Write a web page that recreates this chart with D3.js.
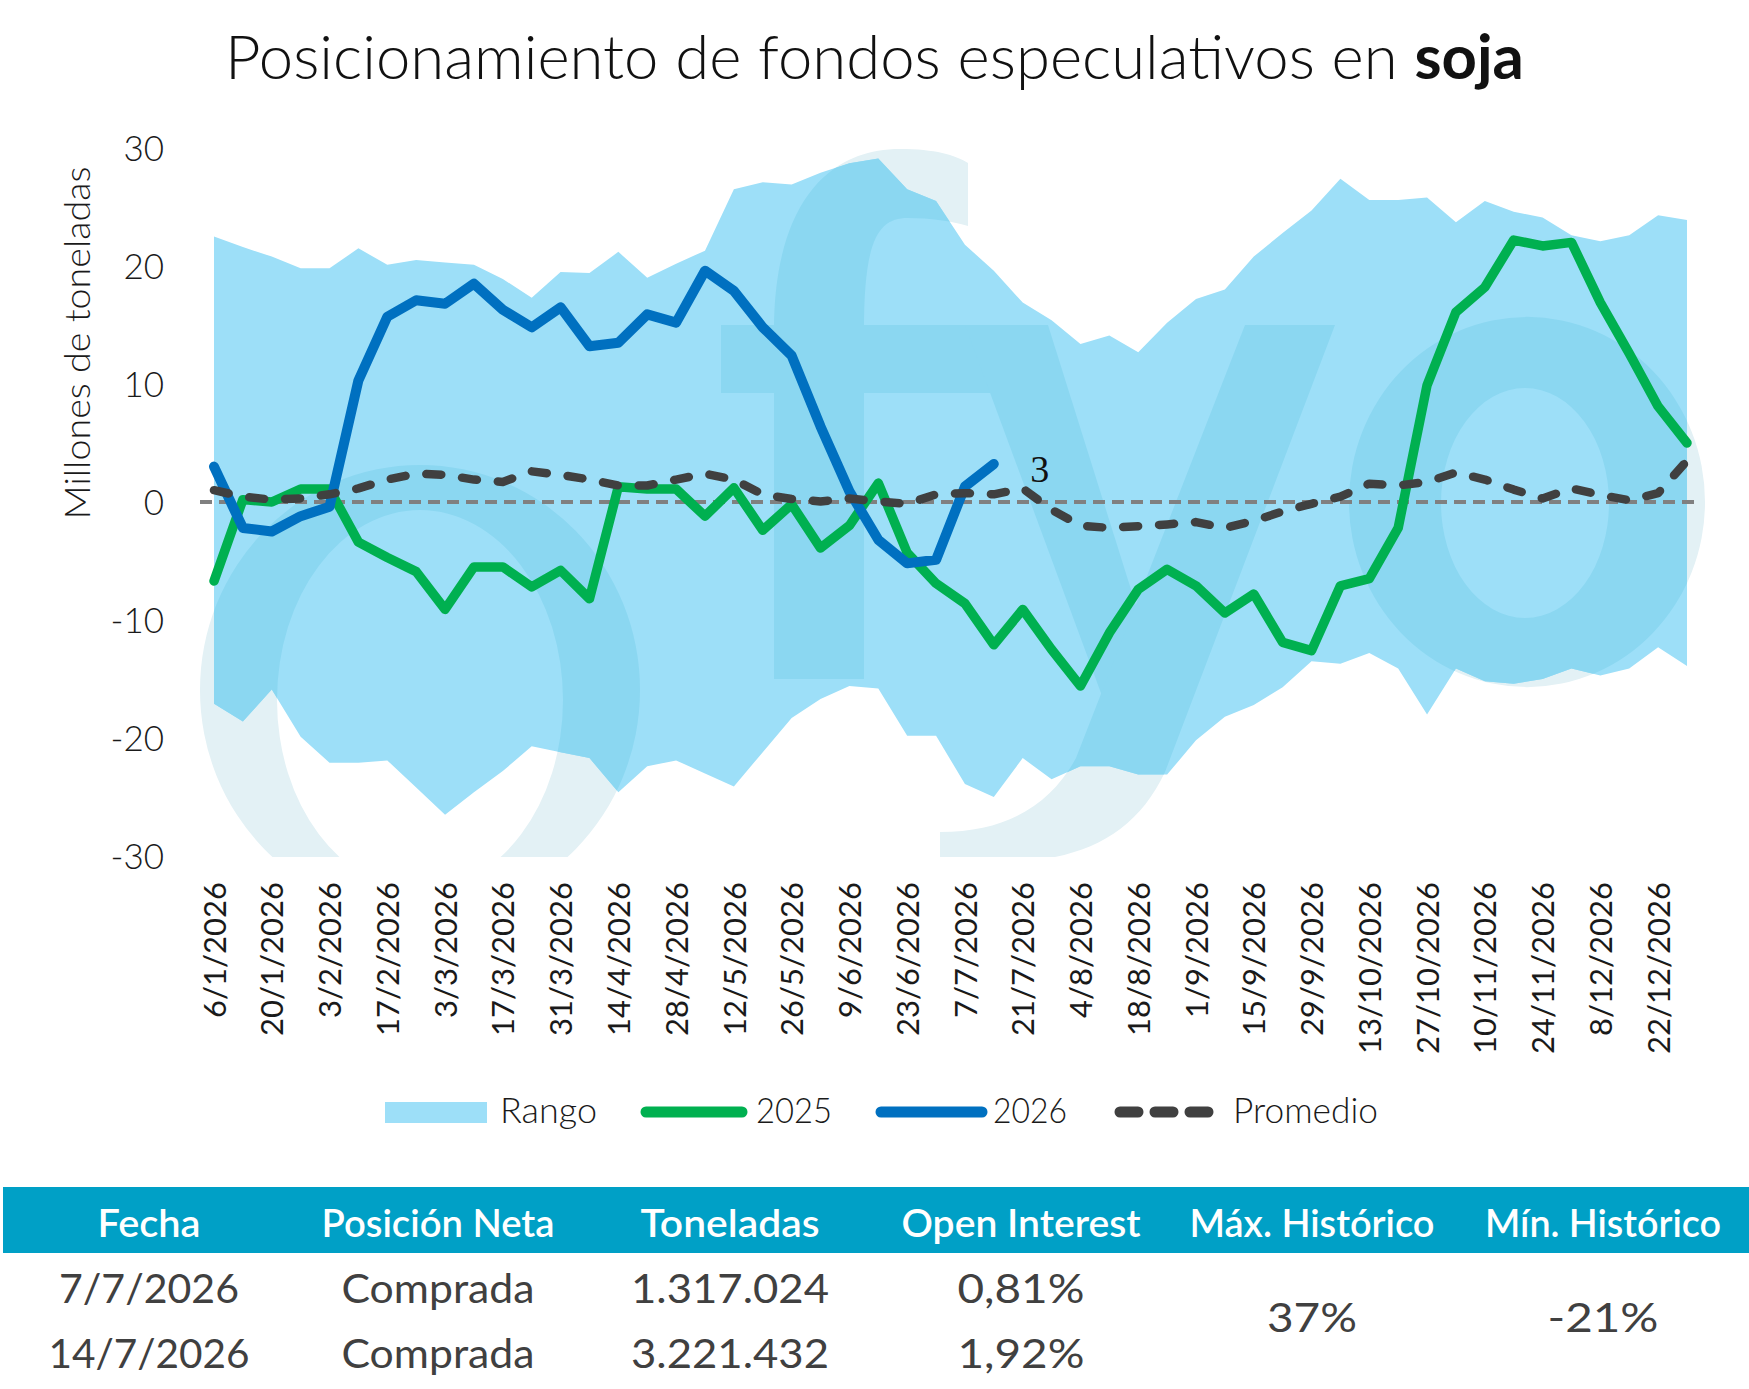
<!DOCTYPE html>
<html>
<head>
<meta charset="utf-8">
<script src="https://cdn.jsdelivr.net/npm/d3@7"></script>
<style>
  html, body { margin: 0; padding: 0; background: #fff; }
  svg { display: block; font-family: Lato, "Open Sans", sans-serif; }
</style>
</head>
<body>
<svg id="chart" width="1749" height="1389"></svg>
<script>
// Semanas (martes) de 2026
const weeks = ["6/1/2026","13/1/2026","20/1/2026","27/1/2026","3/2/2026","10/2/2026","17/2/2026","24/2/2026",
  "3/3/2026","10/3/2026","17/3/2026","24/3/2026","31/3/2026","7/4/2026","14/4/2026","21/4/2026","28/4/2026",
  "5/5/2026","12/5/2026","19/5/2026","26/5/2026","2/6/2026","9/6/2026","16/6/2026","23/6/2026","30/6/2026",
  "7/7/2026","14/7/2026","21/7/2026","28/7/2026","4/8/2026","11/8/2026","18/8/2026","25/8/2026","1/9/2026",
  "8/9/2026","15/9/2026","22/9/2026","29/9/2026","6/10/2026","13/10/2026","20/10/2026","27/10/2026","3/11/2026",
  "10/11/2026","17/11/2026","24/11/2026","1/12/2026","8/12/2026","15/12/2026","22/12/2026","29/12/2026"];

const tickLabels = ["6/1/2026","20/1/2026","3/2/2026","17/2/2026","3/3/2026","17/3/2026","31/3/2026","14/4/2026",
  "28/4/2026","12/5/2026","26/5/2026","9/6/2026","23/6/2026","7/7/2026","21/7/2026","4/8/2026","18/8/2026",
  "1/9/2026","15/9/2026","29/9/2026","13/10/2026","27/10/2026","10/11/2026","24/11/2026","8/12/2026","22/12/2026"];

// millones de toneladas
const rangoMax = [22.5,21.6,20.8,19.8,19.8,21.5,20.1,20.5,20.3,20.1,18.9,17.3,19.5,19.4,21.2,19.0,20.2,21.3,26.5,27.1,
  26.9,27.9,28.7,29.1,26.5,25.5,21.8,19.6,16.9,15.4,13.4,14.1,12.7,15.2,17.2,18.0,20.8,22.8,24.7,27.4,
  25.6,25.6,25.8,23.7,25.5,24.6,24.1,22.6,22.1,22.6,24.3,23.9];
const rangoMin = [-17.1,-18.6,-15.9,-19.9,-22.1,-22.1,-21.9,-24.2,-26.5,-24.6,-22.8,-20.7,-21.2,-21.7,-24.6,-22.4,-21.9,
  -23.0,-24.1,-21.2,-18.3,-16.7,-15.6,-15.8,-19.8,-19.8,-23.9,-25.0,-21.7,-23.5,-22.4,-22.4,-23.1,-23.1,-20.2,
  -18.2,-17.2,-15.7,-13.5,-13.7,-12.8,-14.1,-18.0,-14.1,-15.2,-15.4,-15.0,-14.1,-14.7,-14.1,-12.3,-13.9];
const serie2025 = [-6.7,0.2,0.0,1.1,1.1,-3.4,-4.7,-5.9,-9.1,-5.5,-5.5,-7.2,-5.8,-8.2,1.3,1.1,1.1,-1.2,1.2,-2.4,
  -0.2,-3.9,-2.0,1.6,-4.3,-6.9,-8.6,-12.1,-9.1,-12.5,-15.6,-11.1,-7.4,-5.7,-7.1,-9.4,-7.8,-11.9,-12.6,-7.1,
  -6.5,-2.2,9.9,16.1,18.2,22.2,21.7,22.0,16.9,12.6,8.1,5.0];
const serie2026 = [3.0,-2.2,-2.5,-1.2,-0.4,10.3,15.7,17.1,16.8,18.5,16.3,14.8,16.5,13.2,13.5,15.9,15.2,19.6,17.9,14.8,
  12.4,6.4,0.9,-3.2,-5.2,-4.9,1.317,3.221];
const promedio = [1.0,0.45,0.2,0.3,0.65,1.15,1.9,2.4,2.3,1.9,1.7,2.6,2.3,1.9,1.4,1.4,1.9,2.4,1.9,0.65,
  0.25,0.05,0.3,0.05,-0.15,0.65,0.75,0.65,1.15,-0.65,-2.0,-2.2,-2.05,-1.9,-1.7,-2.2,-1.6,-0.8,-0.15,0.45,
  1.55,1.4,1.7,2.5,1.9,1.05,0.3,1.15,0.6,0.15,0.75,3.5];

const yTicks = [-30, -20, -10, 0, 10, 20, 30];
const yTickLabels = ["-30", "-20", "-10", "0", "10", "20", "30"];

const legendLabels = ["Rango", "2025", "2026", "Promedio"];
const tableHeaders = ["Fecha", "Posición Neta", "Toneladas", "Open Interest", "Máx. Histórico", "Mín. Histórico"];
const tableRows = [
  ["7/7/2026", "Comprada", "1.317.024", "0,81%"],
  ["14/7/2026", "Comprada", "3.221.432", "1,92%"]
];
const maxHistorico = "37%";
const minHistorico = "-21%";

const colors = { rango: "#9ddff8", wmOut: "#e3f1f5", wmIn: "#8bd7f1", g2025: "#00b050", g2026: "#0070c0",
  prom: "#404040", zero: "#808080", header: "#00a0c6", text: "#1a1a1a", cell: "#404040" };

const svg = d3.select("#chart");

// scales
const x = d3.scalePoint().domain(weeks).range([214, 1687]);
const y = d3.scaleLinear().domain([-30, 30]).range([856, 148]);

const defs = svg.append("defs");
defs.append("clipPath").attr("id", "plotClip")
  .append("rect").attr("x", 180).attr("y", 140).attr("width", 1569).attr("height", 717);

const area = d3.area()
  .x((d, i) => x(weeks[i]))
  .y0((d, i) => y(rangoMin[i]))
  .y1(d => y(d));
defs.append("clipPath").attr("id", "areaClip")
  .append("path").attr("d", area(rangoMax));

// watermark (logo de fondo)
function ell(cx, cy, rx, ry) {
  return `M${cx - rx},${cy}A${rx},${ry} 0 1,0 ${cx + rx},${cy}A${rx},${ry} 0 1,0 ${cx - rx},${cy}Z`;
}
const wmPaths = [
  ell(420, 690, 220, 225) + ell(420, 700, 143, 190),
  "M721,325H1048V393H864V679H774V393H721Z",
  "M774,330C774,215 820,149 900,149C935,149 955,155 968,163L968,226C952,221 930,218 908,218C878,218 864,240 864,330Z",
  "M965,325L1048,325L1150,650L1108,712Z",
  "M1245,325L1335,325L1165,772C1135,836 1080,862 1000,862L940,862L940,832C1010,832 1052,802 1076,758Z",
  ell(1527, 502, 178, 185) + ell(1525, 503, 84, 115)
];
function watermark(parent, fill) {
  parent.selectAll("path.wm").data(wmPaths).enter().append("path")
    .attr("class", "wm").attr("d", d => d)
    .attr("fill", fill).attr("fill-rule", "evenodd");
}

const plot = svg.append("g").attr("clip-path", "url(#plotClip)");
watermark(plot.append("g"), colors.wmOut);

plot.append("path")
  .attr("d", area(rangoMax))
  .attr("fill", colors.rango);

watermark(plot.append("g").attr("clip-path", "url(#areaClip)"), colors.wmIn);

// zero line
svg.append("line")
  .attr("x1", 200).attr("x2", 1701)
  .attr("y1", y(0)).attr("y2", y(0))
  .attr("stroke", colors.zero).attr("stroke-width", 4)
  .attr("stroke-dasharray", "12 7");

const line = d3.line().x((d, i) => x(weeks[i])).y(d => y(d));

svg.append("path").datum(serie2025)
  .attr("d", line).attr("fill", "none")
  .attr("stroke", colors.g2025).attr("stroke-width", 9.5)
  .attr("stroke-linejoin", "round").attr("stroke-linecap", "round");

svg.append("path").datum(serie2026)
  .attr("d", line).attr("fill", "none")
  .attr("stroke", colors.g2026).attr("stroke-width", 10)
  .attr("stroke-linejoin", "round").attr("stroke-linecap", "round");

svg.append("path").datum(promedio)
  .attr("d", line).attr("fill", "none")
  .attr("stroke", colors.prom).attr("stroke-width", 8.5)
  .attr("stroke-linejoin", "round").attr("stroke-linecap", "round")
  .attr("stroke-dasharray", "15 21");

// etiqueta del ultimo dato 2026
const lastI = serie2026.length - 1;
svg.append("text")
  .attr("x", x(weeks[lastI]) + 46)
  .attr("y", y(serie2026[lastI]) + 18)
  .attr("text-anchor", "middle")
  .attr("font-family", "Liberation Serif, serif")
  .attr("font-size", 38)
  .attr("fill", "#111")
  .text(d3.format(".0f")(serie2026[lastI]));

// y axis
const yAxis = svg.append("g")
  .attr("transform", "translate(164,0)")
  .call(d3.axisLeft(y).tickValues(yTicks).tickSize(0).tickPadding(0)
    .tickFormat((d, i) => yTickLabels[i]));
yAxis.select(".domain").remove();
yAxis.selectAll("text")
  .attr("font-family", "Lato, sans-serif")
  .attr("font-size", 35)
  .attr("font-weight", 300)
  .attr("fill", colors.text)
  .attr("dy", "0.36em");

svg.append("text")
  .attr("transform", "translate(90,343) rotate(-90)")
  .attr("text-anchor", "middle")
  .attr("font-size", 36)
  .attr("font-weight", 300)
  .attr("fill", colors.text)
  .attr("textLength", 353).attr("lengthAdjust", "spacingAndGlyphs")
  .text("Millones de toneladas");

// x axis
const xAxis = svg.append("g")
  .attr("transform", "translate(0,882)")
  .call(d3.axisBottom(x).tickValues(tickLabels).tickSize(0));
xAxis.select(".domain").remove();
xAxis.selectAll("text")
  .attr("transform", "rotate(-90)")
  .attr("x", 0).attr("y", 0).attr("dy", "0.36em")
  .attr("text-anchor", "end")
  .attr("font-family", "Lato, sans-serif")
  .attr("font-size", 31)
  .attr("font-weight", 400)
  .attr("fill", colors.text);

// title
const title = svg.append("text")
  .attr("x", 0).attr("y", 0)
  .attr("font-size", 62)
  .attr("font-weight", 300)
  .attr("fill", "#111");
title.append("tspan").text("Posicionamiento de fondos especulativos en ");
title.append("tspan").attr("font-weight", 700).text("soja");
const tw = title.node().getComputedTextLength();
title.attr("transform", `translate(225,79) scale(${1299 / tw},1)`);

// legend
const lg = svg.append("g").attr("font-size", 35).attr("font-weight", 300).attr("fill", colors.text);
lg.append("rect").attr("x", 385).attr("y", 1102).attr("width", 102).attr("height", 21).attr("fill", colors.rango);
lg.append("line").attr("x1", 646).attr("x2", 742).attr("y1", 1112).attr("y2", 1112)
  .attr("stroke", colors.g2025).attr("stroke-width", 11).attr("stroke-linecap", "round");
lg.append("line").attr("x1", 881).attr("x2", 982).attr("y1", 1112).attr("y2", 1112)
  .attr("stroke", colors.g2026).attr("stroke-width", 11).attr("stroke-linecap", "round");
lg.append("line").attr("x1", 1120).attr("x2", 1209).attr("y1", 1112).attr("y2", 1112)
  .attr("stroke", colors.prom).attr("stroke-width", 11).attr("stroke-linecap", "round")
  .attr("stroke-dasharray", "18 17");
const legendX = [500, 756, 993, 1233];
const legendW = [97, 76, 74, 145];
legendLabels.forEach((t, i) => {
  lg.append("text").attr("x", legendX[i]).attr("y", 1123)
    .attr("textLength", legendW[i]).attr("lengthAdjust", "spacingAndGlyphs")
    .text(t);
});

// table
const colX = [149, 438, 730, 1021, 1312, 1603];
svg.append("rect").attr("x", 3).attr("y", 1187).attr("width", 1746).attr("height", 66).attr("fill", colors.header);
const headerW = [103, 233, 179, 239, 245, 236];
tableHeaders.forEach((t, i) => {
  svg.append("text").attr("x", colX[i]).attr("y", 1237)
    .attr("text-anchor", "middle")
    .attr("font-size", 38).attr("font-weight", 600).attr("fill", "#fff")
    .attr("textLength", headerW[i]).attr("lengthAdjust", "spacingAndGlyphs")
    .text(t);
});
const cellW = [[180, 193, 198, 127], [201, 193, 198, 127]];
const rowY = [1303, 1368];
tableRows.forEach((row, r) => {
  row.forEach((t, c) => {
    svg.append("text").attr("x", colX[c]).attr("y", rowY[r])
      .attr("text-anchor", "middle")
      .attr("font-size", 40).attr("font-weight", 400).attr("fill", colors.cell)
      .attr("textLength", cellW[r][c]).attr("lengthAdjust", "spacingAndGlyphs")
      .text(t);
  });
});
[[maxHistorico, 4, 90], [minHistorico, 5, 111]].forEach(([t, c, w]) => {
  svg.append("text").attr("x", colX[c]).attr("y", 1332)
    .attr("text-anchor", "middle")
    .attr("font-size", 40).attr("font-weight", 400).attr("fill", colors.cell)
    .attr("textLength", w).attr("lengthAdjust", "spacingAndGlyphs")
    .text(t);
});
</script>
</body>
</html>
